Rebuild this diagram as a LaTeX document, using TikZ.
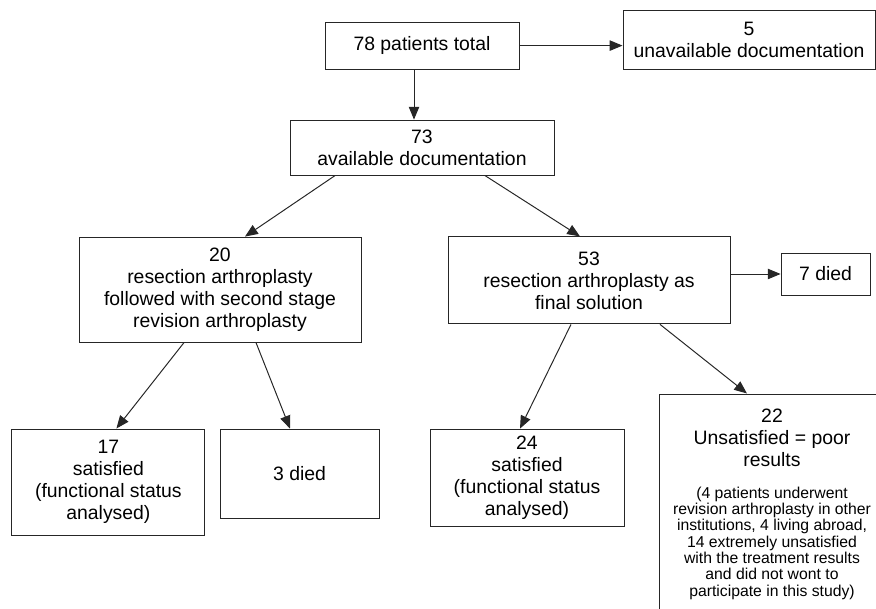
\documentclass[tikz,border=0pt]{standalone}
\usepackage{fontspec}
\setmainfont{Liberation Sans}
\usepackage{tikz}
\usetikzlibrary{positioning,calc,arrows.meta}

\begin{document}
\begin{tikzpicture}[
						box/.style={rectangle, draw=black!85, line width=0.7pt, align=center, inner sep=2pt, font=\fontsize{13.8}{15.6}\selectfont},
						arr/.style={line width=0.7pt, draw=black!85, -{Triangle[length=0.32cm,width=0.26cm]}}
						]
						\useasboundingbox (0,0) rectangle (21.9,-15.225);
						\node[box, minimum width=4.85cm, minimum height=1.175cm] (total) at (10.55,-1.14) {78 patients total};
						\node[box, minimum width=6.3cm, minimum height=1.475cm] (unav) at (18.725,-0.99) {5\\unavailable documentation};
						\node[box, minimum width=6.6cm, minimum height=1.375cm] (avail) at (10.55,-3.69) {73\\available documentation};
						\node[box, minimum width=7.05cm, minimum height=2.625cm] (twostage) at (5.5,-7.24) {20\\resection arthroplasty\\followed with second stage\\revision arthroplasty};
						\node[box, minimum width=7.05cm, minimum height=2.175cm] (final) at (14.725,-7.01) {53\\resection arthroplasty as\\final solution};
						\node[box, minimum width=2.225cm, minimum height=1.05cm] (diedB) at (20.64,-6.85) {7 died};
						\node[box, minimum width=4.825cm, minimum height=2.65cm] (satA) at (2.71,-12.05) {17\\satisfied\\(functional status\\analysed)};
						\node[box, minimum width=3.975cm, minimum height=2.225cm] (diedA) at (7.49,-11.84) {3 died};
						\node[box, minimum width=4.85cm, minimum height=2.425cm] (satB) at (13.175,-11.94) {24\\satisfied\\(functional status\\analysed)};
						\node[box, minimum width=5.65cm, minimum height=5.55cm] (unsat) at (19.3,-12.625) {22\\Unsatisfied = poor\\results\\[7pt]{\fontsize{11.2}{11.6}\selectfont\begin{tabular}[t]{@{}c@{}}(4 patients underwent\\revision arthroplasty in other\\institutions, 4 living abroad,\\14 extremely unsatisfied\\with the treatment results\\and did not wont to\\participate in this study)\end{tabular}}};
						
						\draw[arr] ([xshift=-0.2cm]total.south) -- ([xshift=-0.2cm]total.south |- avail.north);
						\draw[arr] (total.east) -- (total.east -| unav.west);
						\draw[arr] ([xshift=-2.175cm]avail.south) -- ([xshift=0.625cm]twostage.north);
						\draw[arr] ([xshift=1.575cm]avail.south) -- ([xshift=-0.225cm]final.north);
						\draw[arr] ([xshift=-0.9cm]twostage.south) -- ([xshift=0.2cm]satA.north);
						\draw[arr] ([xshift=0.9cm]twostage.south) -- ([xshift=-0.24cm]diedA.north);
						\draw[arr] ([xshift=-0.45cm]final.south) -- ([xshift=-0.175cm]satB.north);
						\draw[arr] ([xshift=1.775cm]final.south) -- ([xshift=-0.625cm]unsat.north);
						\draw[arr] (diedB.west -| final.east) -- (diedB.west);
					\end{tikzpicture}
\end{document}
